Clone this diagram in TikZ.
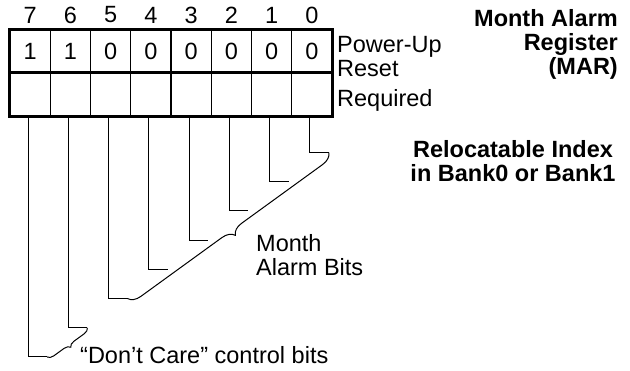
\documentclass[tikz,border=0pt]{standalone}
\usepackage{fontspec}
\setmainfont{Liberation Sans}
\usetikzlibrary{positioning,calc,decorations.pathreplacing}
\tikzset{
  bigfont/.style={font=\fontsize{23.5}{24}\selectfont},
  % register cells
  cell/.style={draw,line width=1.2pt,minimum width=40.25pt,inner sep=0pt,bigfont},
  valcell/.style={cell,minimum height=42pt},
  reqcell/.style={cell,minimum height=44pt},
  frame/.style={draw,line width=3pt},
  % leads and braces
  lead/.style={draw,line width=1pt},
  grp/.style={draw,line width=1pt,decorate,decoration={brace,amplitude=#1}},
  lbl/.style={bigfont,inner sep=0pt},
  title/.style={font=\fontsize{23.5}{24}\selectfont\bfseries,inner sep=0pt},
}
\begin{document}
\begin{tikzpicture}[x=1pt,y=-1pt]
  \useasboundingbox (0,0) rectangle (630,371);
  \foreach \b/\v [count=\k from 0] in {7/1,6/1,5/0,4/0,3/0,2/0,1/0,0/0} {
    \node[valcell] (v\b) at ({30.1+40.25*\k},51) {\v};
    \node[reqcell] (r\b) at ({30.1+40.25*\k},94) {};
    \node[lbl] (n\b) at ({30.1+40.25*\k},15) {\b};
    \coordinate (e\b) at ({47.1+40.25*\k},{357-29.2*\k});
    \draw[lead] ([xshift=-2pt]r\b.south) |- (e\b);
  }
  \draw[frame] (v7.north west) rectangle (r0.south east);
  \draw[frame] (v7.south west) -- (v0.south east);
  \draw[grp=12pt] (e0) -- (e5);
  \draw[grp=6pt] (e6) -- (e7);
  \node[lbl,anchor=west,align=left] (pwr) at (337,56.5) {Power-Up\\Reset};
  \node[lbl,anchor=west] (req) at (337,100) {Required};
  \node[title,anchor=east,align=right] (mar) at (618,44) {Month Alarm\\Register\\(MAR)};
  \node[title,align=center] (rel) at (513,161) {Relocatable Index\\in Bank0 or Bank1};
  \node[lbl,anchor=west,align=left] (mab) at (256,255) {Month\\Alarm Bits};
  \node[lbl,anchor=west] (dc) at (80,355) {“Don’t Care” control bits};
\end{tikzpicture}
\end{document}
